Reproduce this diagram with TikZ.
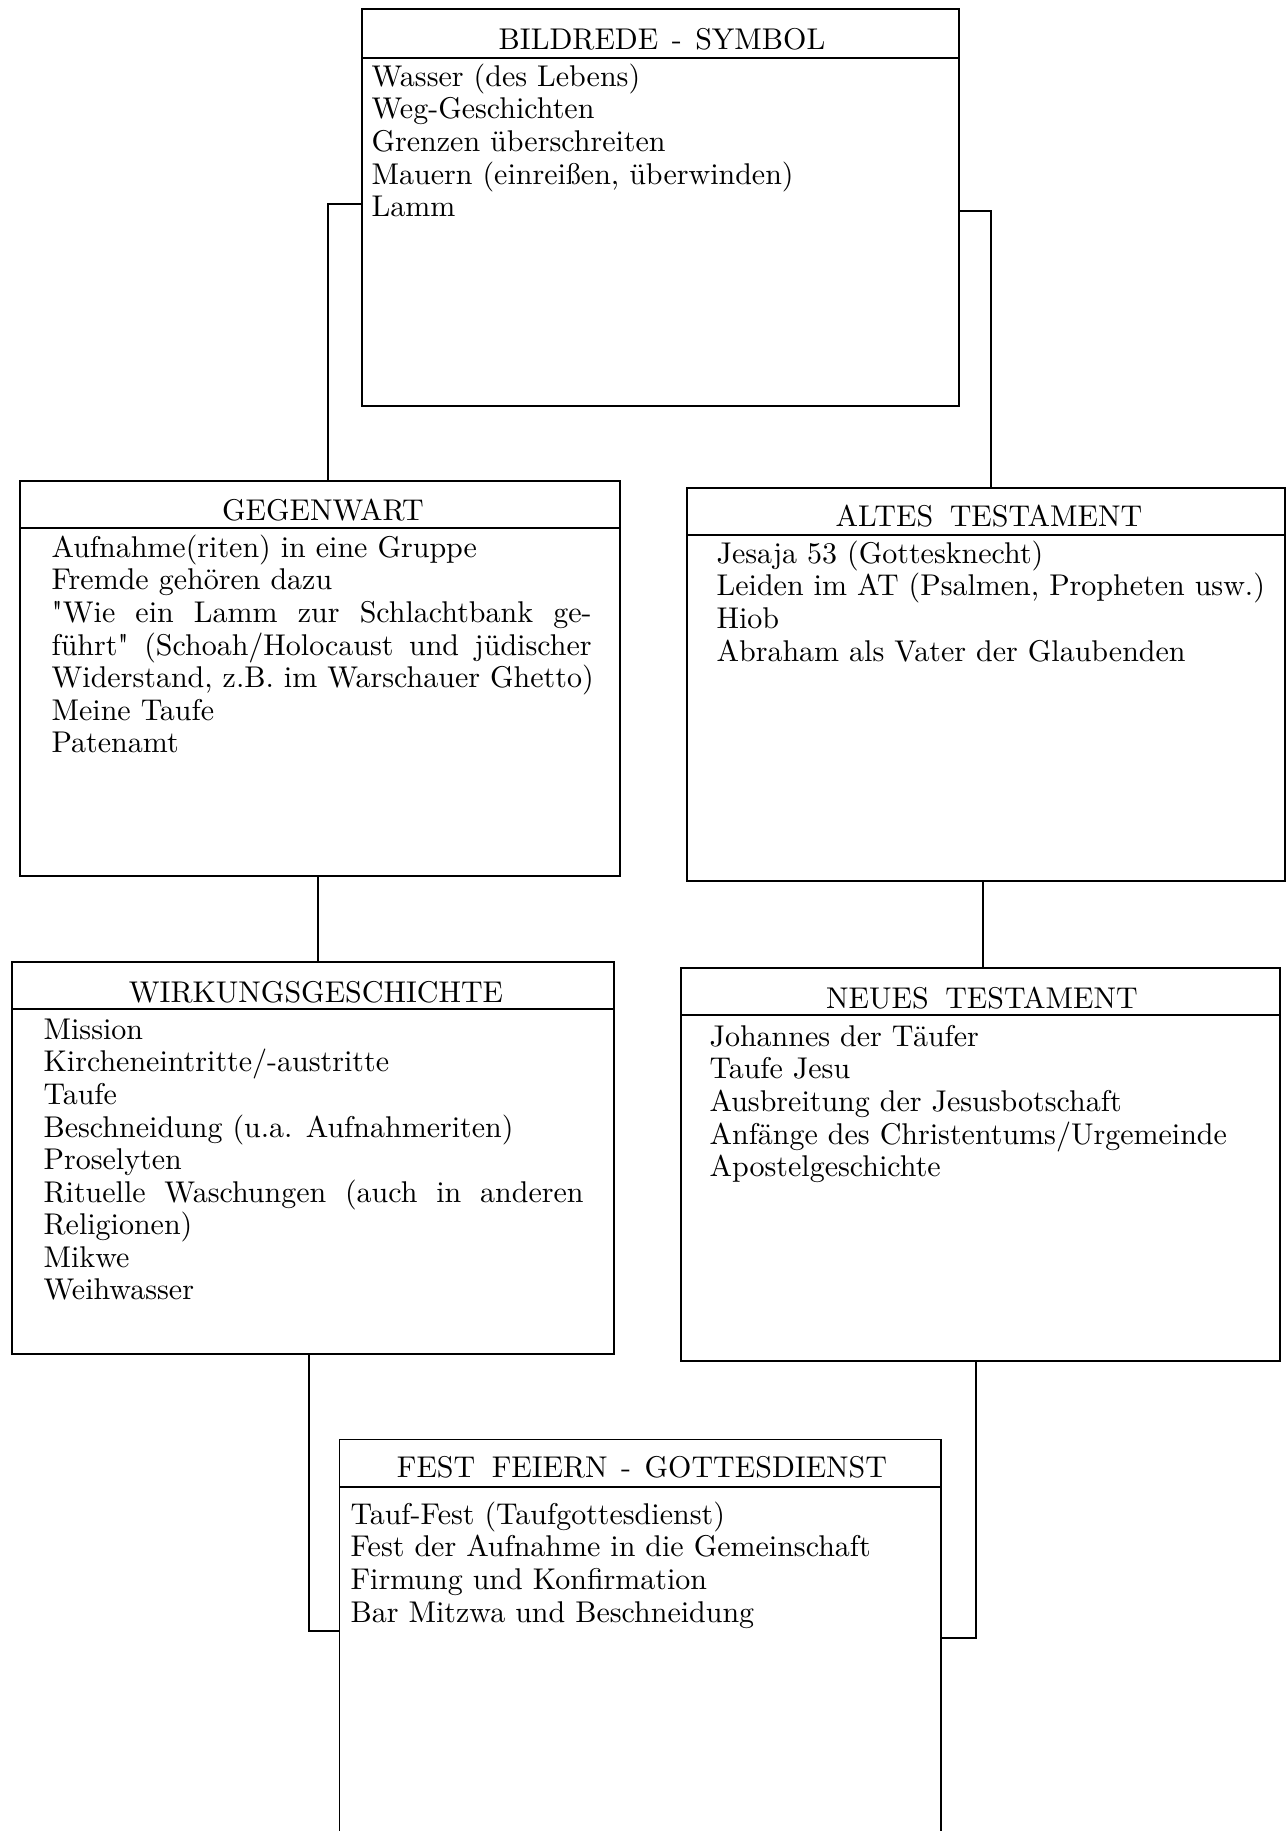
\documentclass[tikz,border=0pt]{standalone}
\usetikzlibrary{fit}
\newcommand{\bodyfnt}{\fontsize{10}{10.85}\selectfont}
\newcommand{\sqt}{\XeTeXglyph\XeTeXcharglyph"22\relax}
\begin{document}
\begin{tikzpicture}[x={(0.333333pt,0)},y={(0,-0.333333pt)},
  boxnode/.style={draw,line width=0.6pt,inner sep=0pt},
  titletext/.style={font=\bodyfnt,anchor=base,inner sep=0pt},
  bodytext/.style={font=\bodyfnt,anchor=north west,inner sep=0pt,align=left},
  sepline/.style={line width=0.6pt},
  conn/.style={line width=0.6pt}]
\useasboundingbox (0,0) rectangle (1288,1831);

% boxes
\node[boxnode,fit={(362,9) (959,406)}] (bild) {};
\node[boxnode,fit={(20,481) (620,876)}] (gegen) {};
\node[boxnode,fit={(687,488) (1285,881)}] (altes) {};
\node[boxnode,fit={(12,962) (614,1354)}] (wirk) {};
\node[boxnode,fit={(681,968) (1280,1361)}] (neues) {};
\node[inner sep=0pt,fit={(340,1440) (940,1831)}] (fest) {};
\draw[line width=0.6pt] (fest.south west) |- (fest.north east) -- (fest.south east);

% separators
\draw[sepline] (bild.west |- 0,58) -- (bild.east |- 0,58);
\draw[sepline] (gegen.west |- 0,528) -- (gegen.east |- 0,528);
\draw[sepline] (altes.west |- 0,535) -- (altes.east |- 0,535);
\draw[sepline] (wirk.west |- 0,1009) -- (wirk.east |- 0,1009);
\draw[sepline] (neues.west |- 0,1015) -- (neues.east |- 0,1015);
\draw[sepline] (fest.west |- 0,1487) -- (fest.east |- 0,1487);

% titles
\node[titletext] (bildt) at (662,50) {BILDREDE\hspace{0.45em}-\hspace{0.45em}SYMBOL};
\node[titletext] (gegent) at (323,521) {GEGENWART};
\node[titletext] (altest) at (989,527) {ALTES\hspace{0.55em}TESTAMENT};
\node[titletext] (wirkt) at (316,1002) {WIRKUNGSGESCHICHTE};
\node[titletext] (neuest) at (982,1008) {NEUES\hspace{0.55em}TESTAMENT};
\node[titletext] (festt) at (642,1477) {FEST\hspace{0.55em}FEIERN\hspace{0.45em}-\hspace{0.45em}GOTTESDIENST};

% bodies
\node[bodytext] (bildb) at (371,63) {\strut Wasser (des Lebens)\\\strut Weg-Geschichten\\\strut Grenzen überschreiten\\\strut Mauern (einreißen, überwinden)\\\strut Lamm};
\node[bodytext] (gegenb) at (51,534) {\strut Aufnahme(riten) in eine Gruppe\\\strut Fremde gehören dazu\\\strut\makebox[180pt][s]{\sqt Wie ein Lamm zur Schlachtbank ge-}\\\strut\makebox[180pt][s]{führt\sqt\ (Schoah/Holocaust und jüdischer}\\\strut Widerstand, z.B. im Warschauer Ghetto)\\\strut Meine Taufe\\\strut Patenamt};
\node[bodytext] (altesb) at (716,540) {\strut Jesaja 53 (Gottesknecht)\\\strut Leiden im AT (Psalmen, Propheten usw.)\\\strut Hiob\\\strut Abraham als Vater der Glaubenden};
\node[bodytext] (wirkb) at (43,1016) {\strut Mission\\\strut Kircheneintritte/-austritte\\\strut Taufe\\\strut Beschneidung (u.a. Aufnahmeriten)\\\strut Proselyten\\\strut\makebox[180pt][s]{Rituelle Waschungen (auch in anderen}\\\strut Religionen)\\\strut Mikwe\\\strut Weihwasser};
\node[bodytext] (neuesb) at (709,1023) {\strut Johannes der Täufer\\\strut Taufe Jesu\\\strut Ausbreitung der Jesusbotschaft\\\strut Anfänge des Christentums/Urgemeinde\\\strut Apostelgeschichte};
\node[bodytext] (festb) at (350,1501) {\strut Tauf-Fest (Taufgottesdienst)\\\strut Fest der Aufnahme in die Gemeinschaft\\\strut Firmung und Konfirmation\\\strut Bar Mitzwa und Beschneidung};

% connectors
\draw[conn] (bild.west |- 0,204) -| (gegen.north -| 328,0);
\draw[conn] (bild.east |- 0,211) -| (altes.north -| 991,0);
\draw[conn] (gegen.south -| 318,0) -- (wirk.north -| 318,0);
\draw[conn] (altes.south -| 983,0) -- (neues.north -| 983,0);
\draw[conn] (wirk.south -| 309,0) |- (fest.west |- 0,1631);
\draw[conn] (neues.south -| 976,0) |- (fest.east |- 0,1638);
\end{tikzpicture}
\end{document}
